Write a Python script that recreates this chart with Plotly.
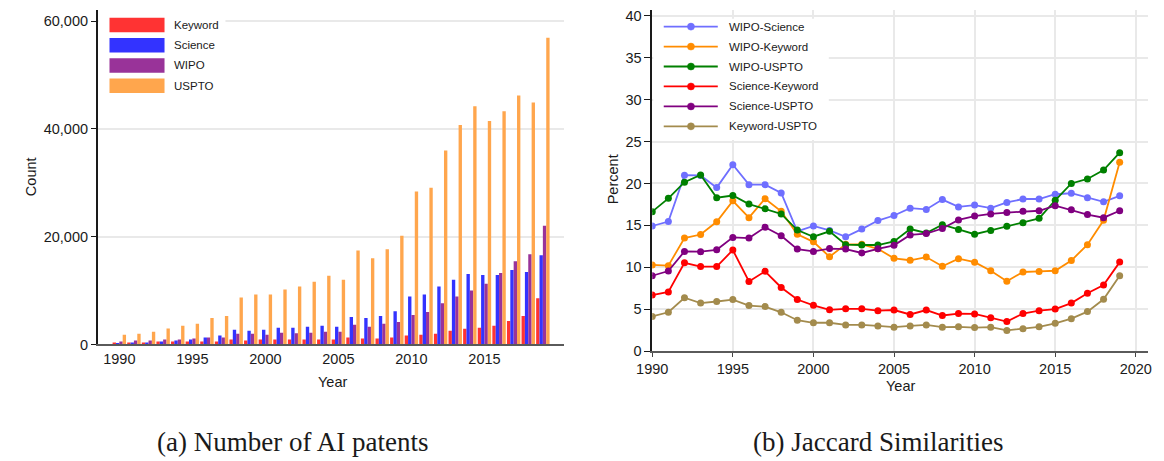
import plotly.graph_objects as go

# The page body keeps its default 8px margin; the figure runs to the window's
# right and bottom edges.
OFF = 8
FW, FH = 1164 - OFF, 461 - OFF

# ---------------- data ----------------
years = list(range(1990, 2020))

bar_names = ["Keyword", "Science", "WIPO", "USPTO"]
bar_colors = ["#FF3333", "#3333FF", "#993399", "#FFA64D"]

keyword = [360, 360, 360, 545, 545, 545, 545, 545, 910, 730,
           910, 910, 910, 910, 910, 910, 1270, 1090, 1090, 1270,
           1640, 1820, 2000, 2550, 2910, 3090, 3450, 4360, 5270, 8550]
science = [180, 360, 360, 545, 730, 910, 1270, 1640, 2730, 2550,
           2730, 3090, 3090, 3270, 3450, 3270, 5090, 4910, 5270, 6180,
           8910, 9270, 10730, 12000, 13090, 12900, 12900, 13820, 13450, 16550]
wipo = [545, 730, 730, 910, 910, 1090, 1270, 1270, 2000, 2000,
        1820, 2180, 2100, 2180, 2360, 2360, 3640, 3270, 3820, 4180,
        5450, 6000, 7640, 8910, 10000, 11270, 13270, 15450, 16730, 22000]
uspto = [1820, 2000, 2360, 2970, 3450, 3820, 4900, 5270, 8730, 9270,
         9270, 10180, 10730, 11640, 12730, 12000, 17450, 16000, 17640, 20180,
         28360, 29090, 36000, 40730, 44180, 41450, 43270, 46180, 44910, 56910]
bar_series = [keyword, science, wipo, uspto]

line_names = ["WIPO-Science", "WIPO-Keyword", "WIPO-USPTO",
              "Science-Keyword", "Science-USPTO", "Keyword-USPTO"]
line_colors = ["#6F6FFF", "#FF8C00", "#008000", "#FF0000", "#800080", "#A38B4D"]

wipo_science = [14.92, 15.45, 20.98, 20.95, 19.5, 22.23, 19.85, 19.85, 18.86, 14.28,
                14.92, 14.39, 13.64, 14.55, 15.57, 16.17, 17.05, 16.9, 18.07, 17.2,
                17.42, 17.05, 17.73, 18.14, 18.14, 18.71, 18.83, 18.3, 17.8, 18.52]
wipo_keyword = [10.27, 10.19, 13.48, 13.9, 15.42, 17.92, 15.91, 18.18, 16.67, 13.94,
                13.03, 11.25, 12.73, 12.73, 12.2, 11.06, 10.83, 11.21, 10.11, 11.02,
                10.6, 9.58, 8.33, 9.43, 9.5, 9.58, 10.8, 12.69, 15.6, 22.54]
wipo_uspto = [16.63, 18.22, 20.15, 21.02, 18.3, 18.56, 17.54, 16.97, 16.36, 14.43,
              13.64, 14.28, 12.69, 12.65, 12.65, 13.07, 14.55, 14.09, 15.08, 14.51,
              13.94, 14.39, 14.89, 15.3, 15.83, 17.99, 20.0, 20.53, 21.59, 23.67]
science_keyword = [6.67, 7.05, 10.53, 10.08, 10.08, 12.05, 8.3, 9.51, 7.58, 6.14,
                   5.45, 4.92, 5.04, 5.04, 4.81, 4.89, 4.36, 4.89, 4.24, 4.47,
                   4.43, 3.98, 3.52, 4.47, 4.81, 5.0, 5.72, 6.89, 7.88, 10.61]
science_uspto = [8.98, 9.55, 11.89, 11.86, 12.08, 13.56, 13.48, 14.77, 13.75, 12.16,
                 11.89, 12.23, 12.16, 11.7, 12.2, 12.61, 13.86, 14.02, 14.62, 15.64,
                 16.1, 16.36, 16.52, 16.67, 16.74, 17.35, 16.86, 16.29, 15.91, 16.74]
keyword_uspto = [4.13, 4.62, 6.36, 5.72, 5.91, 6.14, 5.42, 5.3, 4.62, 3.67,
                 3.37, 3.37, 3.11, 3.11, 2.99, 2.84, 2.99, 3.11, 2.84, 2.88,
                 2.8, 2.84, 2.46, 2.65, 2.88, 3.3, 3.86, 4.7, 6.17, 8.98]
line_series = [wipo_science, wipo_keyword, wipo_uspto,
               science_keyword, science_uspto, keyword_uspto]

left_xticks = [1990, 1995, 2000, 2005, 2010, 2015]
left_yticks = [0, 20000, 40000, 60000]
left_yticklabels = ["0", "20,000", "40,000", "60,000"]
right_xticks = [1990, 1995, 2000, 2005, 2010, 2015, 2020]
right_yticks = [0, 5, 10, 15, 20, 25, 30, 35, 40]

caption_a = "(a) Number of AI patents"
caption_b = "(b) Jaccard Similarities"

# ---------------- helpers (screen pixel -> paper fraction) ----------------
def px(x):
    return (x - OFF) / FW

def py(y):
    return 1 - (y - OFF) / FH

SANS = "Liberation Sans"
SERIF = "Liberation Serif"
GRID = "#E9E9E9"

fig = go.Figure()

for name, vals, col in zip(bar_names, bar_series, bar_colors):
    fig.add_trace(go.Bar(x=years, y=vals, name=name, marker_color=col,
                         marker_line_width=0, xaxis="x", yaxis="y",
                         showlegend=False))

for name, vals, col in zip(line_names, line_series, line_colors):
    fig.add_trace(go.Scatter(x=years, y=vals, name=name, mode="lines+markers",
                             line=dict(color=col, width=1.8),
                             marker=dict(color=col, size=7),
                             xaxis="x2", yaxis="y2", showlegend=False))

tickfont = dict(family=SANS, size=14.5, color="#1a1a1a")

fig.update_layout(
    width=FW, height=FH, autosize=False,
    margin=dict(l=0, r=0, t=0, b=0),
    paper_bgcolor="white", plot_bgcolor="white",
    barmode="group", bargap=0.08, bargroupgap=0,
    showlegend=False,
    xaxis=dict(domain=[px(83), px(558)], range=[1988.52, 2020.48],
               tickvals=left_xticks, ticks="", showgrid=False,
               showline=True, linecolor="#5a5a5a", linewidth=2,
               tickfont=tickfont, zeroline=False, anchor="y",
               ticklabeloverflow="allow"),
    yaxis=dict(domain=[py(350), py(8)], range=[0, 62050],
               tickvals=left_yticks, ticktext=left_yticklabels,
               ticks="outside", ticklen=5, tickcolor="#1a1a1a", tickwidth=1,
               showgrid=True, gridcolor=GRID, gridwidth=1.5,
               showline=True, linecolor="#1a1a1a", linewidth=1.5,
               tickfont=tickfont, zeroline=False, anchor="x",
               ticklabeloverflow="allow"),
    xaxis2=dict(domain=[px(647.3), px(1152)], range=[1990, 2020.77],
                tickvals=right_xticks, ticks="outside", ticklen=4,
                tickcolor="#444", showgrid=True, gridcolor=GRID, gridwidth=1.5,
                showline=True, linecolor="#5a5a5a", linewidth=2,
                tickfont=tickfont, zeroline=False, anchor="y2",
                ticklabeloverflow="allow"),
    yaxis2=dict(domain=[py(356.7), py(8)], range=[0, 40.7],
                tickvals=right_yticks, ticks="outside", ticklen=6,
                tickcolor="#1a1a1a", showgrid=True, gridcolor=GRID, gridwidth=1.5,
                showline=True, linecolor="#1a1a1a", linewidth=1.5,
                tickfont=tickfont, zeroline=False, anchor="x2",
                ticklabeloverflow="allow"),
)

shapes = []
annos = []

# legend boxes (white, cover gridlines; no data lies under them)
shapes.append(dict(type="rect", xref="paper", yref="paper",
                   x0=px(84), x1=px(213), y0=py(102), y1=py(9),
                   fillcolor="white", line_width=0, layer="above"))
shapes.append(dict(type="rect", xref="paper", yref="paper",
                   x0=px(648.3), x1=px(827), y0=py(141), y1=py(17),
                   fillcolor="white", line_width=0, layer="above"))

# left legend
for i, (name, col) in enumerate(zip(bar_names, bar_colors)):
    yc = 23.3 + i * 20.7
    shapes.append(dict(type="rect", xref="paper", yref="paper",
                       x0=px(95), x1=px(151), y0=py(yc + 7.4), y1=py(yc - 7.4),
                       fillcolor=col, line_width=0, layer="above"))
    annos.append(dict(text=name, xref="paper", yref="paper", x=px(159), y=py(yc),
                      xanchor="left", yanchor="middle", showarrow=False,
                      font=dict(family=SANS, size=11.5, color="#1a1a1a")))

# right legend
for i, (name, col) in enumerate(zip(line_names, line_colors)):
    yc = 25 + i * 20.4
    shapes.append(dict(type="line", xref="paper", yref="paper",
                       x0=px(659), x1=px(714), y0=py(yc), y1=py(yc),
                       line=dict(color=col, width=1.8), layer="above"))
    shapes.append(dict(type="circle", xref="paper", yref="paper",
                       x0=px(686.7 - 3.6), x1=px(686.7 + 3.6),
                       y0=py(yc + 3.6), y1=py(yc - 3.6),
                       fillcolor=col, line=dict(color=col, width=0.5),
                       layer="above"))
    annos.append(dict(text=name, xref="paper", yref="paper", x=px(723), y=py(yc),
                      xanchor="left", yanchor="middle", showarrow=False,
                      font=dict(family=SANS, size=11.5, color="#1a1a1a")))

# axis titles
titlefont = dict(family=SANS, size=14.5, color="#1a1a1a")
annos.append(dict(text="Count", xref="paper", yref="paper", x=px(15), y=py(178),
                  textangle=-90, showarrow=False, font=titlefont,
                  xanchor="center", yanchor="middle"))
annos.append(dict(text="Percent", xref="paper", yref="paper", x=px(607.5), y=py(181),
                  textangle=-90, showarrow=False, font=titlefont,
                  xanchor="center", yanchor="middle"))
annos.append(dict(text="Year", xref="paper", yref="paper", x=px(322), y=py(388),
                  showarrow=False, font=titlefont, xanchor="center", yanchor="middle"))
annos.append(dict(text="Year", xref="paper", yref="paper", x=px(900), y=py(392),
                  showarrow=False, font=titlefont, xanchor="center", yanchor="middle"))

# captions
capfont = dict(family=SERIF, size=27, color="#1a1a1a")
annos.append(dict(text=caption_a, xref="paper", yref="paper", x=px(281), y=py(450),
                  showarrow=False, font=capfont, xanchor="center", yanchor="middle"))
annos.append(dict(text=caption_b, xref="paper", yref="paper", x=px(877), y=py(450),
                  showarrow=False, font=capfont, xanchor="center", yanchor="middle"))

fig.update_layout(shapes=shapes, annotations=annos)

fig.write_html("out.html", config={"displayModeBar": False, "responsive": False})
